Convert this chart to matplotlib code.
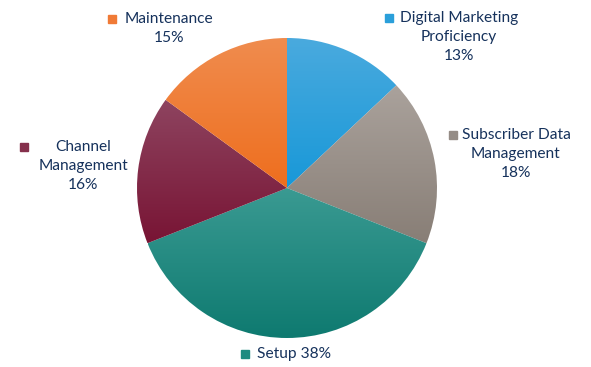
import matplotlib.pyplot as plt
import matplotlib.colors as mcolors
import numpy as np

plt.rcParams["font.family"] = ["Lato", "DejaVu Sans"]

labels = ["Digital Marketing\nProficiency", "Subscriber Data\nManagement", "Setup",
          "Channel\nManagement", "Maintenance"]
shares = [13, 18, 38, 16, 15]
top_colors = ["#4aaade", "#aaa29c", "#3a9a92", "#8e4460", "#f08c4e"]
bottom_colors = ["#1898d8", "#887e76", "#0e7a70", "#781434", "#ee6e1e"]
marker_colors = ["#2a9fda", "#958c86", "#1e8a80", "#85304c", "#f07a36"]

TEXT = "#16325c"
W, H = 591, 367
cx, cy, r = 287, H - 188, 150

fig = plt.figure(figsize=(W / 100, H / 100), dpi=100)
ax = fig.add_axes([0, 0, 1, 1])

wedges, _ = ax.pie(shares, startangle=90, counterclock=False, center=(cx, cy),
                   radius=r, frame=True, wedgeprops=dict(linewidth=0))

# vertical gradient inside each wedge
for w, c1, c2 in zip(wedges, top_colors, bottom_colors):
    bb = w.get_path().get_extents()
    cmap = mcolors.LinearSegmentedColormap.from_list("g", [c2, c1])
    grad = np.linspace(0, 1, 256).reshape(-1, 1)
    w.set_facecolor("none")
    im = ax.imshow(grad, cmap=cmap, origin="lower", aspect="auto",
                   extent=[bb.x0, bb.x1, bb.y0, bb.y1], zorder=1)
    im.set_clip_path(w)

ax.set_xlim(0, W)
ax.set_ylim(0, H)
ax.set_aspect("equal")
ax.axis("off")

# label placement: (text centre x, first-line centre y, marker x)
label_pos = [(459, H - 18, 389), (516, H - 135, 453), (294, H - 354, 245),
             (83, H - 147, 24), (169, H - 19, 112)]
for lab, s, c, (tx, ty, mx) in zip(labels, shares, marker_colors, label_pos):
    txt = f"{lab} {s}%" if lab == "Setup" else f"{lab}\n{s}%"
    ax.text(tx, ty + 7, txt, ha="center", va="top", fontsize=11.2, color=TEXT,
            linespacing=1.47)
    ax.plot(mx, ty, marker="s", markersize=6, color=c, linestyle="none")

fig.savefig("out.png", dpi=100)
